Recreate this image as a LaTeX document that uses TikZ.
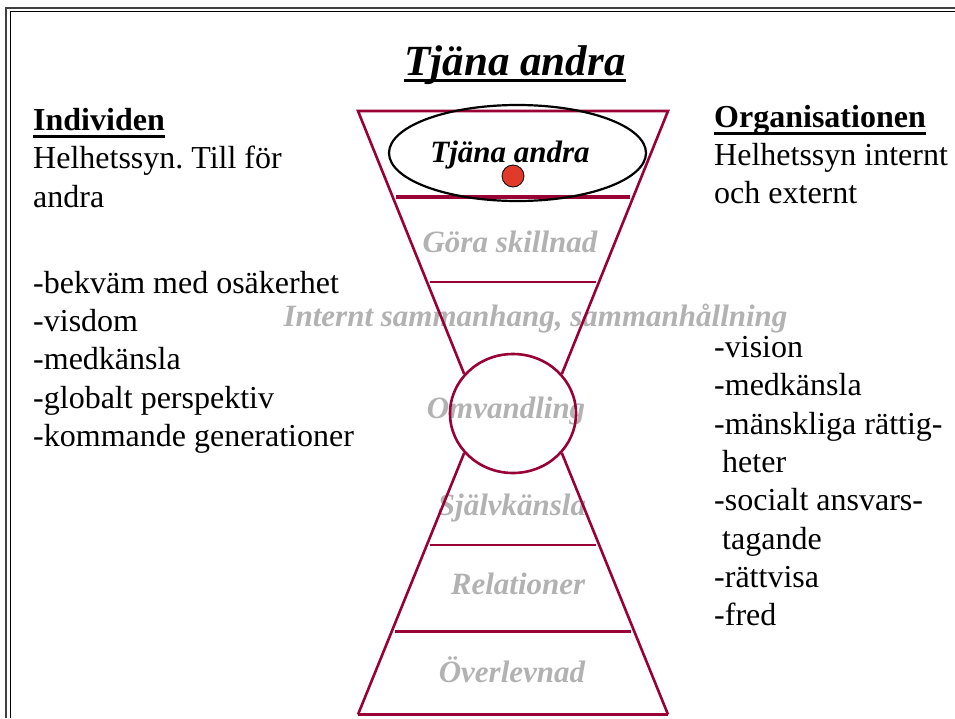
\documentclass[tikz,border=0pt]{standalone}
\usepackage{fontspec}
\setmainfont{Liberation Serif}
\usetikzlibrary{calc}
\usetikzlibrary{shapes.geometric}

\definecolor{glasscol}{RGB}{153,0,51}
\definecolor{dotcol}{RGB}{226,58,42}

\tikzset{
  txt/.style={inner sep=0pt,anchor=base west,font=\fontsize{32}{38}\selectfont},
  hdr/.style={txt,font=\fontsize{32}{38}\selectfont\bfseries},
  level/.style={inner sep=0pt,anchor=base,text=black!30,font=\fontsize{31}{37}\selectfont\bfseries\itshape},
  glass/.style={draw=glasscol,line width=2.6pt},
  divider/.style={glass,shorten <=3pt,shorten >=3pt}
}

\begin{document}
\frenchspacing
\begin{tikzpicture}[x=1pt,y=-1pt]
	\useasboundingbox (0,0) rectangle (955,718);

	% frame, cut off at right and bottom
	\draw[line width=1.6pt,black!75] (6,718) -- (6,8) -- (955,8);
	\draw[line width=0.8pt] (10.5,718) -- (10.5,11) -- (955,11);

	% title
	\node (title) [inner sep=0pt,anchor=base,font=\fontsize{43}{50}\selectfont\bfseries\itshape] at (515,75) {Tjäna andra};
	\draw[line width=3pt] ([yshift=-5.5pt]title.base west) -- ([yshift=-5.5pt]title.base east);

	% left column
	\node (indiv) [hdr] at (33,130) {Individen};
	\draw[line width=2.5pt] ([yshift=-6.5pt]indiv.base west) -- ([yshift=-6.5pt]indiv.base east);
	\node (indiv-1) [txt] at (33,168.5) {Helhetssyn. Till för};
	\node (indiv-2) [txt] at (33,207) {andra};
	\foreach \y/\txt [count=\i] in {293/-bekväm med osäkerhet,331/-visdom,369.5/-medkänsla,408/-globalt perspektiv,446/-kommande generationer}{
		\node (ilist-\i) [txt] at (33,\y) {\txt};
	}

	% right column
	\node (org) [hdr] at (714,127) {Organisationen};
	\draw[line width=2.5pt] ([yshift=-6.5pt]org.base west) -- ([yshift=-6.5pt]org.base east);
	\node (org-1) [txt] at (714,165) {Helhetssyn internt};
	\node (org-2) [txt] at (714,203) {och externt};
	\foreach \x/\y/\txt [count=\i] in {714/357/-vision,714/395/-medkänsla,714/434/-mänskliga rättig-,722/472/heter,714/510/-socialt ansvars-,722/549/tagande,714/587/-rättvisa,714/625/-fred}{
		\node (olist-\i) [txt] at (\x,\y) {\txt};
	}

	% level labels
	\node (gora) [level] at (510,252) {Göra skillnad};
	\node (internt) [level] at (535.5,326) {Internt sammanhang, sammanhållning};
	\node (omv) [level] at (506,418) {Omvandling};
	\node (sjalv) [level] at (512,515) {Självkänsla};
	\node (rel) [level] at (518,594) {Relationer};
	\node (overl) [level] at (512,682) {Överlevnad};

	% hourglass
	\coordinate (tl) at (358,111);
	\coordinate (tr) at (668,111);
	\coordinate (bl) at (358,714.5);
	\coordinate (br) at (668,714.5);
	\node (ring) [ellipse,glass,minimum width=126pt,minimum height=119pt,inner sep=0pt] at (513,413.5) {};
	\draw[glass] (ring.141) -- (tl) -- (tr) -- (ring.39);
	\draw[glass] (ring.219) -- (bl);
	\draw[glass] (ring.321) -- (br);
	\draw[glass,line width=3.6pt] (bl) -- (br);
	\draw[divider,line width=3.6pt] ($(tl)!.327!(ring.141)$) -- ($(tr)!.327!(ring.39)$);
	\draw[divider] ($(tl)!.65!(ring.141)$) -- ($(tr)!.65!(ring.39)$);
	\draw[divider] ($(ring.219)!.352!(bl)$) -- ($(ring.321)!.352!(br)$);
	\draw[divider,line width=3pt] ($(ring.219)!.681!(bl)$) -- ($(ring.321)!.681!(br)$);

	% top level
	\node (tjana) [level,text=black] at (510,162) {Tjäna andra};
	\node (topring) [ellipse,draw,line width=2.2pt,minimum width=257pt,minimum height=96pt,inner sep=0pt] at (517.5,153) {};
	\node (dot) [circle,draw,line width=0.8pt,fill=dotcol,minimum size=22pt,inner sep=0pt] at (513,176) {};
\end{tikzpicture}
\end{document}
